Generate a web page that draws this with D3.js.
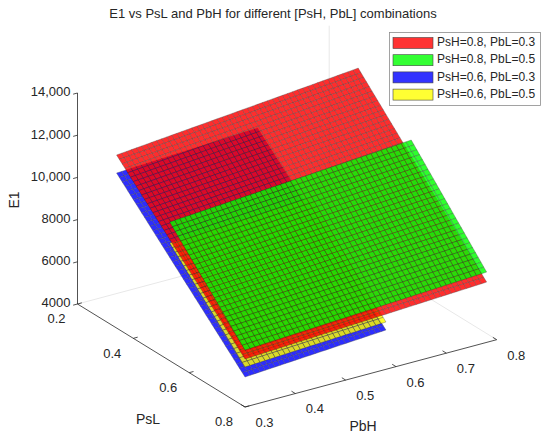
<!DOCTYPE html>
<html>
<head>
<meta charset="utf-8">
<script src="https://cdn.jsdelivr.net/npm/d3@7"></script>
<style>
  html, body { margin: 0; padding: 0; background: #fff; }
  text { font-family: "Liberation Sans", Arial, Helvetica, sans-serif; fill: #262626; }
</style>
</head>
<body>
<svg id="chart" width="550" height="442"></svg>
<script>
// ---------------- data ----------------
const titleText = "E1 vs PsL and PbH for different [PsH, PbL] combinations";
const seriesNames = ["PsH=0.8, PbL=0.3", "PsH=0.8, PbL=0.5", "PsH=0.6, PbL=0.3", "PsH=0.6, PbL=0.5"];
const seriesColors = ["#ff0000", "#00ff00", "#0000ff", "#ffff00"];
// domain of each surface (PsL, PbH)
const pslMin = [0.34, 0.53, 0.34, 0.53];
const pslMax = [0.80, 0.80, 0.80, 0.80];
const pbhMin = [0.30, 0.30, 0.30, 0.30];
const pbhMax = [0.78, 0.78, 0.58, 0.58];
// E1 at the surface corners: (PsLmin,PbHmin), (PsLmax,PbHmin), (PsLmax,PbHmax), (PsLmin,PbHmax)
const e1Red    = [12200, 6275, 6858, 13256];
const e1Green  = [10573, 6701, 7332, 11393];
const e1Blue   = [11346, 5422, 5863, 11692];
const e1Yellow = [9578, 5896, 6242, 9924];
const e1Corners = [e1Red, e1Green, e1Blue, e1Yellow];
const meshStep = 0.01;
// axes
const pslTicks = [0.2, 0.4, 0.6, 0.8];
const pbhTicks = [0.3, 0.4, 0.5, 0.6, 0.7, 0.8];
const e1Ticks = [4000, 6000, 8000, 10000, 12000, 14000];
const e1TickLabels = ["4000", "6000", "8000", "10,000", "12,000", "14,000"];
const pslDomain = [0.2, 0.8], pbhDomain = [0.3, 0.8], e1Domain = [4000, 14000];
const drawOrder = [2, 3, 0, 1]; // back to front

// ---------------- projection ----------------
const svg = d3.select("#chart");
const sP = d3.scaleLinear().domain(pslDomain).range([0, 1]);
const sQ = d3.scaleLinear().domain(pbhDomain).range([0, 1]);
const sE = d3.scaleLinear().domain(e1Domain).range([0, 1]);
const O = [77.5, 304], vP = [167.5, 103], vQ = [251.7, -67.3], vE = [0, -211];
function proj(p, q, e) {
  const a = sP(p), b = sQ(q), c = sE(e);
  return [O[0] + a * vP[0] + b * vQ[0] + c * vE[0], O[1] + a * vP[1] + b * vQ[1] + c * vE[1]];
}

// faint back box lines
const boxG = svg.append("g").attr("stroke", "#e8e8e8").attr("stroke-width", 1).attr("fill", "none");
const boxLines = [
  [[0.2, 0.3, 4000], [0.2, 0.8, 4000]],
  [[0.2, 0.8, 4000], [0.8, 0.8, 4000]],
  [[0.2, 0.8, 4000], [0.2, 0.8, 14000]]
];
boxLines.forEach(l => {
  const a = proj(...l[0]), b = proj(...l[1]);
  boxG.append("line").attr("x1", a[0]).attr("y1", a[1]).attr("x2", b[0]).attr("y2", b[1]);
});

// ---------------- surfaces ----------------
function e1At(s, p, q) {
  const u = (p - pslMin[s]) / (pslMax[s] - pslMin[s]);
  const v = (q - pbhMin[s]) / (pbhMax[s] - pbhMin[s]);
  const c = e1Corners[s];
  return (1 - u) * (1 - v) * c[0] + u * (1 - v) * c[1] + u * v * c[2] + (1 - u) * v * c[3];
}
drawOrder.forEach(s => {
  const n = Math.round((pslMax[s] - pslMin[s]) / meshStep);
  const m = Math.round((pbhMax[s] - pbhMin[s]) / meshStep);
  const ps = d3.range(n + 1).map(i => pslMin[s] + i * (pslMax[s] - pslMin[s]) / n);
  const qs = d3.range(m + 1).map(j => pbhMin[s] + j * (pbhMax[s] - pbhMin[s]) / m);
  const cells = [];
  for (let i = 0; i < n; i++) for (let j = 0; j < m; j++) {
    cells.push([[ps[i], qs[j]], [ps[i + 1], qs[j]], [ps[i + 1], qs[j + 1]], [ps[i], qs[j + 1]]]);
  }
  const g = svg.append("g").attr("opacity", 0.82);
  g.selectAll("path").data(cells).join("path")
    .attr("d", c => "M" + c.map(pt => proj(pt[0], pt[1], e1At(s, pt[0], pt[1])).map(v => v.toFixed(2)).join(",")).join("L") + "Z")
    .attr("fill", seriesColors[s])
    .attr("stroke", "#1a1a1a")
    .attr("stroke-opacity", 0.75)
    .attr("stroke-width", 0.45)
    .attr("stroke-linejoin", "round");
});

// ---------------- axes ----------------
const axG = svg.append("g").attr("stroke", "#262626").attr("stroke-width", 0.8).attr("fill", "none");
function seg(a, b) { axG.append("line").attr("x1", a[0]).attr("y1", a[1]).attr("x2", b[0]).attr("y2", b[1]); }
seg(proj(0.2, 0.3, 4000), proj(0.2, 0.3, 14000));
seg(proj(0.2, 0.3, 4000), proj(0.8, 0.3, 4000));
seg(proj(0.8, 0.3, 4000), proj(0.8, 0.8, 4000));

const tl = 4.5;
const uQ = [vQ[0] / Math.hypot(...vQ), vQ[1] / Math.hypot(...vQ)];
const uP = [vP[0] / Math.hypot(...vP), vP[1] / Math.hypot(...vP)];
pslTicks.forEach(p => {
  const a = proj(p, 0.3, 4000);
  seg(a, [a[0] + uQ[0] * tl, a[1] + uQ[1] * tl]);
  svg.append("text").attr("x", a[0] - 21).attr("y", a[1] + 16).attr("text-anchor", "middle")
    .attr("dominant-baseline", "middle").attr("font-size", 13).text(p.toFixed(1));
});
pbhTicks.forEach(q => {
  const a = proj(0.8, q, 4000);
  seg(a, [a[0] - uP[0] * tl, a[1] - uP[1] * tl]);
  svg.append("text").attr("x", a[0] + 19.5).attr("y", a[1] + 16.5).attr("text-anchor", "middle")
    .attr("dominant-baseline", "middle").attr("font-size", 13).text(q.toFixed(1));
});
e1Ticks.forEach((e, i) => {
  const a = proj(0.2, 0.3, e);
  seg(a, [a[0] - uQ[0] * tl, a[1] - uQ[1] * tl]);
  svg.append("text").attr("x", a[0] - 7).attr("y", a[1]).attr("text-anchor", "end")
    .attr("dominant-baseline", "middle").attr("font-size", 13).text(e1TickLabels[i]);
});

svg.append("text").attr("x", 148).attr("y", 420).attr("text-anchor", "middle")
  .attr("dominant-baseline", "middle").attr("font-size", 14).text("PsL");
svg.append("text").attr("x", 363).attr("y", 427).attr("text-anchor", "middle")
  .attr("dominant-baseline", "middle").attr("font-size", 14).text("PbH");
svg.append("text").attr("transform", "translate(15,200) rotate(-90)").attr("text-anchor", "middle")
  .attr("dominant-baseline", "middle").attr("font-size", 14).text("E1");

svg.append("text").attr("x", 273).attr("y", 15).attr("text-anchor", "middle")
  .attr("dominant-baseline", "middle").attr("font-size", 13).text(titleText);

// ---------------- legend ----------------
const lg = svg.append("g");
lg.append("rect").attr("x", 389.5).attr("y", 32.5).attr("width", 151).attr("height", 73)
  .attr("fill", "#fff").attr("stroke", "#8c8c8c").attr("stroke-width", 0.8);
seriesNames.forEach((name, i) => {
  const cy = 43 + i * 17.2;
  lg.append("rect").attr("x", 393).attr("y", cy - 5.5).attr("width", 40).attr("height", 11)
    .attr("fill", seriesColors[i]).attr("fill-opacity", 0.8).attr("stroke", "#444").attr("stroke-width", 0.6);
  lg.append("text").attr("x", 437).attr("y", cy).attr("dominant-baseline", "middle")
    .attr("font-size", 12).text(name);
});
</script>
</body>
</html>
